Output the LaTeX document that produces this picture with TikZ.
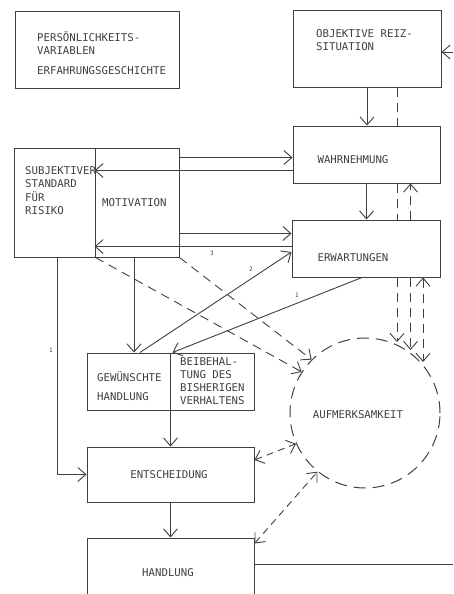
\documentclass[tikz,border=0pt]{standalone}
\usepackage{fontspec}
\newfontfamily\tw{DejaVu Sans Mono}
\usetikzlibrary{arrows.meta}
\definecolor{ink}{gray}{0.25}
\tikzset{
  myb/.tip={Straight Barb[length=8pt,width=14pt,line width=0.9pt]},
  ln/.style={draw=ink, line width=0.9pt},
  arr/.style={ln, -myb},
  both/.style={ln, myb-myb},
  dsh/.style={dash pattern=on 9pt off 6pt},
  box/.style={draw=ink, line width=1pt, inner sep=0pt},
  txt/.style={font=\tw\fontsize{10.7}{13}\selectfont, text=ink, inner sep=0pt, text height=7.8pt, text depth=0pt},
  lbl/.style={font=\tw\fontsize{6}{7}\selectfont, text=ink, inner sep=0pt},
}
\begin{document}
\begin{tikzpicture}[x=1pt,y=-1pt]
\useasboundingbox (0,0) rectangle (453,594);
\fill[white] (0,0) rectangle (453,594);
\clip (0,0) rectangle (453,594);
% boxes
\node[box, minimum width=164pt, minimum height=76pt] (P) at (97,50) {};
\node[box, minimum width=148pt, minimum height=76pt] (O) at (367,49) {};
\node[box, minimum width=147pt, minimum height=57pt] (W) at (366.5,154.5) {};
\node[box, minimum width=148pt, minimum height=57pt] (E) at (366,248.5) {};
\node[box, minimum width=81pt, minimum height=109pt] (S) at (54.5,202.5) {};
\node[box, minimum width=84pt, minimum height=109pt] (M) at (137,202.5) {};
\node[box, minimum width=83pt, minimum height=57pt] (G) at (128.5,381.5) {};
\node[box, minimum width=84pt, minimum height=57pt] (B) at (212,381.5) {};
\node[box, minimum width=167pt, minimum height=55pt] (Ent) at (170.5,474.5) {};
\node[box, minimum width=167pt, minimum height=72pt] (H) at (170.5,574) {};
\node[box, circle, minimum size=150pt, dash pattern=on 12pt off 7pt] (A) at (365,413) {};
% texts
\node[txt, anchor=west] (p1) at (37,38) {PERSÖNLICHKEITS-};
\node[txt, anchor=west] (p2) at (37,51) {VARIABLEN};
\node[txt, anchor=west] (p3) at (37,71) {ERFAHRUNGSGESCHICHTE};
\node[txt, anchor=west] (o1) at (316,34) {OBJEKTIVE REIZ-};
\node[txt, anchor=west] (o2) at (316,47) {SITUATION};
\node[txt] (w1) at (353,160) {WAHRNEHMUNG};
\node[txt] (e1) at (353,258) {ERWARTUNGEN};
\node[txt, anchor=west] (s1) at (25,171) {SUBJEKTIVER};
\node[txt, anchor=west] (s2) at (25,184) {STANDARD};
\node[txt, anchor=west] (s3) at (25,198) {FÜR};
\node[txt, anchor=west] (s4) at (25,211) {RISIKO};
\node[txt, anchor=west] (m1) at (102,203) {MOTIVATION};
\node[txt, anchor=west] (g1) at (97,378) {GEWÜNSCHTE};
\node[txt, anchor=west] (g2) at (97,397) {HANDLUNG};
\node[txt, anchor=west] (b1) at (180,362) {BEIBEHAL-};
\node[txt, anchor=west] (b2) at (180,375) {TUNG DES};
\node[txt, anchor=west] (b3) at (180,388) {BISHERIGEN};
\node[txt, anchor=west] (b4) at (180,401) {VERHALTENS};
\node[txt] (ent1) at (169,475) {ENTSCHEIDUNG};
\node[txt] (h1) at (168,573) {HANDLUNG};
\node[txt] (a1) at (358,415) {AUFMERKSAMKEIT};
% helper coordinates
\coordinate (d1) at (397,0);
\coordinate (d2) at (410.5,0);
\coordinate (d3) at (423,0);
\coordinate (xb) at (134,0);
\coordinate (t1) at (397,342);
\coordinate (t2) at (410.5,350);
\coordinate (t3) at (423,362);
\coordinate (fbT) at (453,52);
\coordinate (fbR) at (453,564);
% feedback from the right edge
\draw[arr] (fbT) -- (fbT -| O.east);
\draw[ln] ([yshift=10pt]H.east) -- (fbR);
% vertical chain on the right
\draw[arr] (O.south) -- (O.south |- W.north);
\draw[ln, dsh] (O.south -| d1) -- (W.north -| d1);
\draw[arr] (W.south) -- (W.south |- E.north);
\draw[ln, dsh] (W.south -| d1) -- (E.north -| d1);
\draw[arr, dsh] (E.north -| d2) -- (W.south -| d2);
\draw[arr, dsh] (E.south -| d1) -- (t1);
\draw[arr, dsh] (E.south -| d2) -- (t2);
\draw[both, dsh] (E.south -| d3) -- (t3);
% horizontal connections Motivation / Wahrnehmung / Erwartungen
\draw[arr] ([yshift=-10pt]M.north east) -- ([yshift=-10pt]M.north east -| W.west);
\draw[arr] ([yshift=-23pt]M.north west -| W.west) -- ([yshift=-23pt]M.north west);
\draw[arr] ([yshift=24pt]M.south east) -- ([yshift=24pt]M.south east -| E.west);
\draw[arr] ([yshift=11pt]M.south west -| E.west) -- ([yshift=11pt]M.south west);
\node[lbl] (n3) at (212,253) {3};
% down from Subjektiver Standard to Entscheidung
\draw[arr] ([xshift=2.5pt]S.south) |- (Ent.west);
\node[lbl] (n1a) at (51,350) {1};
% Motivation to Gewuenschte Handlung
\draw[arr] (M.south -| xb) -- (G.north -| xb);
% line 2 and line 1
\draw[arr] ([xshift=11.5pt]G.north) -- ([yshift=-3.5pt]E.west);
\node[lbl] (n2) at (251,269) {2};
\draw[arr] ([xshift=-4pt]E.south) -- ([xshift=3pt]B.north west);
\node[lbl] (n1b) at (297,295) {1};
% dashed arrows into Aufmerksamkeit
\draw[arr, dsh] (S.south east) -- (A.147);
\draw[arr, dsh] (M.south east) -- (A.135);
% lower chain
\draw[arr] (G.south east) -- (G.south east |- Ent.north);
\draw[arr] (Ent.south) -- (Ent.south |- H.north);
\draw[both, dash pattern=on 7pt off 5pt] ([yshift=14.5pt]Ent.east) -- (A.204);
\draw[both, dash pattern=on 7pt off 5pt] ([yshift=-6pt]H.north east) -- (A.231);
\end{tikzpicture}
\end{document}
